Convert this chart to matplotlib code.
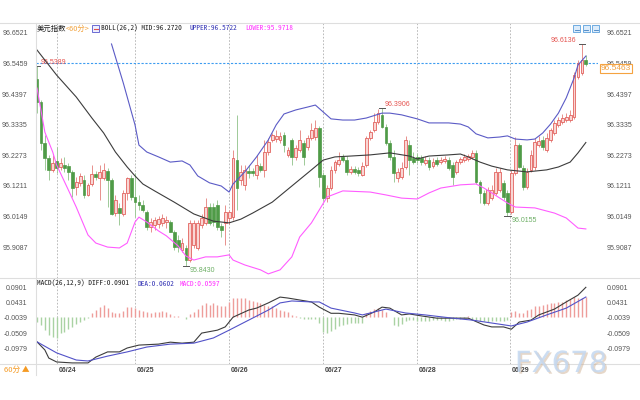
import numpy as np
import matplotlib
matplotlib.use('Agg')
import matplotlib.pyplot as plt
from matplotlib.patches import Rectangle
from matplotlib.lines import Line2D
import matplotlib.transforms as mtransforms
import matplotlib.patheffects as pe

plt.rcParams['font.family'] = ['Liberation Sans', 'Noto Sans CJK SC', 'DejaVu Sans']

# 1h candles of the US dollar index
opens = [96.492, 96.413, 96.270, 96.218, 96.177, 96.208, 96.187, 96.194, 96.191, 96.170,
         96.118, 96.132, 96.142, 96.090, 96.128, 96.163, 96.149, 96.149, 96.173, 96.142,
         96.027, 96.045, 96.024, 96.097, 96.149, 96.083, 96.066, 96.055, 96.031, 95.979,
         95.986, 95.989, 95.993, 95.996, 95.996, 95.961, 95.934, 95.899, 95.906, 95.864,
         95.916, 95.906, 95.986, 95.993, 96.048, 96.048, 96.055, 95.982, 95.993, 96.010,
         96.013, 96.211, 96.142, 96.125, 96.173, 96.173, 96.159, 96.190, 96.177, 96.239,
         96.281, 96.284, 96.281, 96.298, 96.229, 96.281, 96.222, 96.246, 96.270, 96.256,
         96.288, 96.291, 96.322, 96.159, 96.079, 96.114, 96.177, 96.197, 96.222, 96.211,
         96.170, 96.180, 96.177, 96.159, 96.194, 96.288, 96.315, 96.343, 96.367, 96.326,
         96.270, 96.222, 96.149, 96.152, 96.187, 96.263, 96.218, 96.222, 96.218, 96.201,
         96.211, 96.190, 96.211, 96.204, 96.208, 96.211, 96.194, 96.170, 96.204, 96.211,
         96.215, 96.222, 96.236, 96.135, 96.097, 96.062, 96.079, 96.097, 96.107, 96.132,
         96.097, 96.031, 96.166, 96.263, 96.184, 96.118, 96.177, 96.187, 96.263, 96.281,
         96.246, 96.281, 96.305, 96.333, 96.343, 96.350, 96.350, 96.361, 96.499, 96.513,
         96.558]
highs = [96.5389, 96.420, 96.298, 96.229, 96.229, 96.256, 96.218, 96.222, 96.201, 96.177,
         96.152, 96.166, 96.159, 96.132, 96.194, 96.173, 96.194, 96.201, 96.184, 96.149,
         96.090, 96.062, 96.107, 96.152, 96.159, 96.166, 96.090, 96.072, 96.038, 96.010,
         96.013, 96.017, 96.024, 96.017, 96.003, 95.968, 95.951, 95.941, 95.916, 96.003,
         96.003, 96.003, 96.024, 96.079, 96.062, 96.062, 96.072, 95.993, 96.055, 96.038,
         96.246, 96.368, 96.194, 96.194, 96.194, 96.184, 96.229, 96.201, 96.281, 96.288,
         96.305, 96.315, 96.308, 96.308, 96.256, 96.288, 96.263, 96.315, 96.281, 96.298,
         96.340, 96.350, 96.329, 96.170, 96.125, 96.190, 96.211, 96.239, 96.232, 96.225,
         96.190, 96.190, 96.187, 96.204, 96.295, 96.315, 96.374, 96.389, 96.3906, 96.336,
         96.281, 96.246, 96.184, 96.204, 96.295, 96.281, 96.239, 96.236, 96.229, 96.225,
         96.222, 96.218, 96.222, 96.222, 96.225, 96.222, 96.204, 96.211, 96.222, 96.232,
         96.232, 96.246, 96.246, 96.142, 96.107, 96.118, 96.125, 96.183, 96.183, 96.142,
         96.107, 96.177, 96.291, 96.270, 96.194, 96.183, 96.246, 96.288, 96.295, 96.295,
         96.305, 96.322, 96.350, 96.361, 96.371, 96.374, 96.385, 96.517, 96.558, 96.6136,
         96.576]
lows = [96.374, 96.246, 96.177, 96.142, 96.170, 96.166, 96.177, 96.170, 96.142, 96.083,
        96.090, 96.121, 96.080, 96.087, 96.121, 96.142, 96.072, 96.142, 96.048, 96.020,
        96.017, 95.986, 96.017, 96.072, 96.072, 96.013, 96.038, 96.031, 95.968, 95.961,
        95.968, 95.975, 95.982, 95.975, 95.961, 95.899, 95.892, 95.892, 95.8430, 95.857,
        95.906, 95.899, 95.975, 95.986, 95.986, 95.982, 95.968, 95.944, 95.916, 95.989,
        96.003, 96.038, 96.125, 96.107, 96.149, 96.156, 96.145, 96.170, 96.152, 96.229,
        96.274, 96.274, 96.270, 96.239, 96.222, 96.194, 96.211, 96.239, 96.194, 96.246,
        96.281, 96.281, 96.118, 96.072, 96.066, 96.107, 96.166, 96.190, 96.204, 96.159,
        96.163, 96.163, 96.156, 96.156, 96.187, 96.281, 96.308, 96.336, 96.322, 96.263,
        96.211, 96.135, 96.135, 96.145, 96.180, 96.159, 96.197, 96.201, 96.194, 96.194,
        96.177, 96.184, 96.190, 96.197, 96.201, 96.177, 96.125, 96.163, 96.197, 96.204,
        96.208, 96.215, 96.128, 96.062, 96.055, 96.055, 96.072, 96.090, 96.100, 96.072,
        96.0155, 96.024, 96.159, 96.184, 96.107, 96.111, 96.170, 96.177, 96.256, 96.246,
        96.239, 96.274, 96.298, 96.326, 96.336, 96.343, 96.343, 96.354, 96.492, 96.506,
        96.537]
closes = [96.413, 96.270, 96.218, 96.177, 96.201, 96.184, 96.201, 96.184, 96.170, 96.114,
          96.135, 96.156, 96.090, 96.125, 96.163, 96.152, 96.170, 96.177, 96.142, 96.024,
          96.072, 96.027, 96.097, 96.149, 96.083, 96.066, 96.055, 96.038, 95.979, 95.996,
          96.003, 96.006, 96.010, 96.003, 95.961, 95.909, 95.909, 95.923, 95.864, 95.993,
          95.993, 95.993, 96.010, 96.048, 95.993, 95.996, 95.979, 95.968, 96.031, 96.031,
          96.218, 96.114, 96.170, 96.177, 96.166, 96.166, 96.194, 96.177, 96.239, 96.274,
          96.298, 96.295, 96.295, 96.263, 96.246, 96.222, 96.253, 96.281, 96.222, 96.288,
          96.315, 96.322, 96.152, 96.079, 96.114, 96.177, 96.204, 96.211, 96.211, 96.170,
          96.180, 96.170, 96.166, 96.190, 96.288, 96.308, 96.343, 96.374, 96.326, 96.270,
          96.222, 96.166, 96.170, 96.184, 96.281, 96.211, 96.204, 96.211, 96.204, 96.211,
          96.187, 96.204, 96.197, 96.211, 96.215, 96.184, 96.152, 96.204, 96.215, 96.222,
          96.225, 96.236, 96.135, 96.097, 96.062, 96.107, 96.107, 96.170, 96.170, 96.083,
          96.031, 96.166, 96.263, 96.187, 96.118, 96.170, 96.229, 96.274, 96.277, 96.256,
          96.288, 96.315, 96.340, 96.350, 96.357, 96.361, 96.368, 96.506, 96.548, 96.558,
          96.546]

# BOLL(26,2) lines, read at some candle positions
mid_idx = [0, 5, 10, 14, 17, 20, 23, 25, 27, 30, 35, 40, 45, 49, 52, 55, 60, 65, 70, 73,
           76, 80, 85, 90, 95, 97, 100, 105, 108, 110, 113, 116, 120, 125, 130, 133, 136, 138, 140]
mid_val = [96.593, 96.506, 96.430, 96.357, 96.305, 96.239, 96.187, 96.156, 96.128, 96.104,
           96.065, 96.024, 95.999, 95.993, 96.006, 96.027, 96.065, 96.121, 96.177, 96.211,
           96.222, 96.225, 96.229, 96.236, 96.225, 96.215, 96.225, 96.229, 96.232, 96.222,
           96.204, 96.190, 96.177, 96.170, 96.177, 96.187, 96.204, 96.236, 96.272]
up_idx = [19, 22, 25, 26, 28, 31, 34, 37, 39, 41, 44, 47, 49, 50, 53, 56, 59, 61, 63, 66,
          69, 71, 73, 75, 78, 81, 84, 88, 90, 93, 97, 100, 105, 108, 110, 112, 115, 118, 120,
          122, 125, 127, 129, 131, 133, 135, 137, 138, 140]
up_val = [96.614, 96.479, 96.333, 96.263, 96.239, 96.222, 96.204, 96.208, 96.194, 96.156,
          96.132, 96.121, 96.100, 96.128, 96.170, 96.222, 96.281, 96.333, 96.371, 96.385,
          96.395, 96.402, 96.378, 96.354, 96.350, 96.350, 96.357, 96.374, 96.374, 96.368,
          96.354, 96.340, 96.340, 96.336, 96.326, 96.302, 96.288, 96.291, 96.295, 96.284,
          96.281, 96.284, 96.305, 96.336, 96.374, 96.427, 96.496, 96.541, 96.572]
low_idx = [0, 2, 4, 5, 8, 10, 13, 15, 18, 21, 23, 25, 26, 28, 31, 33, 36, 38, 40, 43, 46,
           49, 50, 53, 57, 59, 62, 65, 67, 70, 72, 74, 78, 85, 89, 93, 97, 100, 103, 108, 112,
           114, 116, 120, 122, 127, 132, 135, 138, 140]
low_val = [96.461, 96.308, 96.239, 96.194, 96.107, 96.048, 95.951, 95.923, 95.909, 95.906,
           95.923, 95.996, 96.013, 95.996, 95.965, 95.948, 95.913, 95.878, 95.864, 95.875,
           95.875, 95.882, 95.864, 95.847, 95.830, 95.816, 95.830, 95.875, 95.944, 95.993,
           96.038, 96.083, 96.104, 96.100, 96.090, 96.079, 96.076, 96.097, 96.114, 96.125,
           96.128, 96.114, 96.097, 96.062, 96.048, 96.045, 96.027, 96.010, 95.975, 95.972]

# MACD(26,12,9)
hist = [-0.016, -0.025, -0.041, -0.056, -0.062, -0.065, -0.050, -0.047, -0.038, -0.031,
        -0.022, -0.016, -0.010, -0.005, 0.012, 0.021, 0.030, 0.036, 0.027, 0.015,
        0.012, 0.010, 0.018, 0.030, 0.030, 0.027, 0.021, 0.016, 0.013, 0.012,
        0.013, 0.015, 0.016, 0.013, 0.009, 0.002, 0.001, -0.002, -0.007, 0.009,
        0.013, 0.024, 0.036, 0.041, 0.036, 0.041, 0.036, 0.032, 0.033, 0.046,
        0.058, 0.058, 0.058, 0.058, 0.052, 0.047, 0.044, 0.041, 0.036, 0.033,
        0.033, 0.027, 0.021, 0.016, 0.013, 0.006, 0.001, -0.005, -0.008, -0.008,
        -0.007, -0.008, -0.019, -0.047, -0.050, -0.044, -0.038, -0.028, -0.025, -0.022,
        -0.021, -0.021, -0.021, -0.019, 0.012, 0.018, 0.024, 0.027, 0.021, 0.013,
        -0.001, -0.025, -0.028, -0.022, -0.014, -0.011, -0.011, -0.014, -0.014, -0.014,
        -0.014, -0.011, -0.010, -0.011, -0.013, -0.014, -0.010, -0.008, -0.007, -0.005,
        0.002, -0.008, -0.010, -0.013, -0.014, -0.016, -0.014, -0.014, -0.014, -0.014,
        -0.011, 0.015, 0.018, 0.012, 0.012, 0.021, 0.024, 0.033, 0.033, 0.036,
        0.039, 0.043, 0.043, 0.044, 0.046, 0.052, 0.055, 0.061, 0.058, 0.058,
        0.0597]
diff_idx = [0, 2, 3, 5, 9, 13, 15, 18, 21, 23, 26, 31, 34, 37, 40, 42, 46, 48, 50, 54,
            56, 59, 62, 64, 67, 70, 72, 75, 77, 81, 83, 86, 88, 90, 93, 95, 98, 102, 106, 110,
            114, 116, 119, 121, 123, 126, 128, 132, 135, 138, 140]
diff_val = [-0.078, -0.103, -0.128, -0.140, -0.143, -0.143, -0.125, -0.109, -0.109, -0.097,
            -0.088, -0.085, -0.079, -0.082, -0.079, -0.051, -0.042, -0.032, -0.002, 0.020,
            0.026, 0.042, 0.060, 0.057, 0.051, 0.045, 0.029, 0.010, 0.010, 0.005,
            -0.002, 0.014, 0.029, 0.026, 0.005, 0.008, 0.002, -0.005, -0.005, -0.005,
            -0.026, -0.032, -0.032, -0.039, -0.017, -0.011, 0.005, 0.023, 0.045, 0.066,
            0.0901]
dea_idx = [0, 5, 10, 13, 18, 23, 28, 34, 40, 45, 49, 54, 59, 62, 65, 70, 72, 75, 81, 83,
           89, 94, 99, 106, 111, 116, 121, 125, 130, 135, 140]
dea_val = [-0.078, -0.112, -0.134, -0.137, -0.122, -0.109, -0.094, -0.085, -0.082, -0.066,
           -0.042, -0.011, 0.020, 0.042, 0.048, 0.045, 0.045, 0.026, 0.011, 0.005,
           0.023, 0.011, 0.005, -0.005, -0.011, -0.020, -0.029, -0.017, 0.005, 0.026,
           0.0602]

price_ticks = [96.6521, 96.5459, 96.4397, 96.3335, 96.2273, 96.1211, 96.0149, 95.9087]
macd_ticks = [0.0901, 0.0431, -0.0039, -0.0509, -0.0979]
day_pos = [5.2, 25, 49, 73, 97, 120.7]
day_labels = ['06/24', '06/25', '06/26', '06/27', '06/28', '06/29']
last_price = 96.5463

W, H = 640, 400
fig = plt.figure(figsize=(6.4, 4.0), dpi=100)


def fx(x):
    return x / W


def fy(y):
    return 1 - y / H


ax = fig.add_axes([fx(36), fy(278), 562 / W, 255 / H])
ax2 = fig.add_axes([fx(36), fy(364), 562 / W, 86 / H])
for a in (ax, ax2):
    a.set_xlim(-0.26, 143.1)
    a.set_xticks([])
    for s in a.spines.values():
        s.set_visible(False)
    a.tick_params(axis='y', left=False, right=False, labelleft=True, labelright=True,
                  labelsize=5, labelcolor='#555555', pad=2.5)
    for p in day_pos:
        a.axvline(p, color='#b0b0b0', ls=(0, (2, 2)), lw=0.6, zorder=0)
ax.set_ylim(95.8017, 96.6868)
ax2.set_ylim(-0.1463, 0.1188)
ax.set_yticks(price_ticks)
ax.set_yticklabels([f'{t:.4f}' for t in price_ticks])
ax2.set_yticks(macd_ticks)
ax2.set_yticklabels([f'{t:.4f}' for t in macd_ticks])

# frame lines
for yy in (23, 278, 364):
    fig.add_artist(Line2D([0, 1], [fy(yy), fy(yy)], color='#dedede', lw=0.8))
fig.add_artist(Line2D([fx(36), fx(36)], [fy(23), fy(375)], color='#dedede', lw=0.8))

# candles
o, h, l, c = (np.array(v) for v in (opens, highs, lows, closes))
idx = np.arange(len(c))
up = c >= o
ax.vlines(idx[up], l[up], h[up], color='#e8908c', lw=0.7, zorder=2)
ax.vlines(idx[~up], l[~up], h[~up], color='#9fca98', lw=0.7, zorder=2)
lo = np.minimum(o, c)
bh = np.maximum(np.abs(c - o), 0.0015)
ax.bar(idx[up], bh[up], bottom=lo[up], width=0.72, color='#f9d6d4', edgecolor='#e2625e',
       linewidth=0.6, zorder=3)
ax.bar(idx[~up], bh[~up], bottom=lo[~up], width=0.72, color='#4f9b47', edgecolor='#4f9b47',
       linewidth=0.5, zorder=3)

ax.plot(mid_idx, mid_val, color='#3c3c3c', lw=0.8, zorder=4)
ax.plot(up_idx, up_val, color='#5b5bc6', lw=0.8, zorder=4)
ax.plot(low_idx, low_val, color='#ff5cff', lw=0.8, zorder=4)
ax.axhline(last_price, color='#3d9cf0', ls=(0, (2, 1.5)), lw=0.8, zorder=1)

# high / low marks
for i in (0, 88, 139):
    ax.plot([i - 0.8, i + 0.8], [h[i], h[i]], color='#555555', lw=0.7, zorder=5)
for i in (38, 120):
    ax.plot([i - 0.8, i + 0.8], [l[i], l[i]], color='#555555', lw=0.7, zorder=5)
ax.text(0.8, h[0], f'{h[0]:.4f}', color='#e5534f', fontsize=5, va='bottom', ha='left')
ax.text(88.6, h[88] + 0.002, f'{h[88]:.4f}', color='#e5534f', fontsize=5, va='bottom', ha='left')
ax.text(137.6, h[139], f'{h[139]:.4f}', color='#e5534f', fontsize=5, va='bottom', ha='right')
ax.text(39.0, l[38] - 0.003, f'{l[38]:.4f}', color='#6cae64', fontsize=5, va='top', ha='left')
ax.text(121.0, l[120] - 0.003, f'{l[120]:.4f}', color='#6cae64', fontsize=5, va='top', ha='left')

# MACD panel
ax2.vlines(idx, 0, hist, colors=['#ee9d9a' if v >= 0 else '#a9d2a3' for v in hist], lw=1.0)
ax2.plot(diff_idx, diff_val, color='#3c3c3c', lw=0.8)
ax2.plot(dea_idx, dea_val, color='#5252c8', lw=0.8)
tr = mtransforms.blended_transform_factory(ax2.transData, ax2.transAxes)
for p, lab in zip(day_pos, day_labels):
    ax2.text(p + 0.4, -0.035, lab, transform=tr, fontsize=5, fontweight='bold',
             color='#444444', va='top', ha='left')

# headers
mono = ['Noto Sans Mono CJK SC', 'Noto Sans CJK SC', 'DejaVu Sans Mono']
cjk = ['Noto Sans CJK SC', 'DejaVu Sans']
fig.text(fx(37), fy(28.5), '美元指数', family=cjk, fontsize=5.3, color='#222222', va='center')
fig.text(fx(66), fy(28.5), '<60分>', family=cjk, fontsize=5.3, color='#f2a23c', va='center')
fig.add_artist(Rectangle((fx(92), fy(32)), 7 / W, 7 / H, fc='#eef0ff', ec='#5555cc', lw=0.6))
fig.add_artist(Line2D([fx(93.5), fx(97.5)], [fy(29), fy(29)], color='#e05050', lw=0.8))
fig.text(fx(101), fy(28.5), 'BOLL(26,2) MID:96.2720', family=mono, fontsize=5.3,
         color='#222222', va='center')
fig.text(fx(190), fy(28.5), 'UPPER:96.5722', family=mono, fontsize=5.3, color='#3535b5', va='center')
fig.text(fx(245), fy(28.5), 'LOWER:95.9718', family=mono, fontsize=5.3, color='#ff33ff', va='center')
fig.text(fx(37), fy(283.5), 'MACD(26,12,9) DIFF:0.0901', family=mono, fontsize=5.3,
         color='#222222', va='center')
fig.text(fx(137), fy(283.5), 'DEA:0.0602', family=mono, fontsize=5.3, color='#3535b5', va='center')
fig.text(fx(180), fy(283.5), 'MACD:0.0597', family=mono, fontsize=5.3, color='#ff33ff', va='center')

# toolbar buttons top right
for bx in (573, 582.5, 592):
    fig.add_artist(Rectangle((fx(bx), fy(32)), 7 / W, 7 / H, fc='#dcecfb', ec='#5aa0dc', lw=0.6))
    fig.add_artist(Line2D([fx(bx + 1.5), fx(bx + 5.5)], [fy(30), fy(30)], color='#3f7fc0', lw=0.6))

# last price tag
fig.text(fx(601), fy(68.5), f'{last_price:.4f}', fontsize=6, color='#f0a040', va='center',
         bbox=dict(boxstyle='square,pad=0.12', fc='white', ec='#f5a340', lw=0.8))

fig.text(fx(4), fy(370), '60分 ▲', family=cjk, fontsize=5.5, color='#f59a23', va='center')

# watermark
fig.text(fx(561), fy(364), 'FX678', fontsize=21, color='#c4d8f0', ha='center', va='center',
         family='DejaVu Sans', alpha=0.85,
         path_effects=[pe.withSimplePatchShadow(offset=(1.2, -1.2), shadow_rgbFace='#c8a888', alpha=0.45)])

fig.savefig('out.png', dpi=100)
